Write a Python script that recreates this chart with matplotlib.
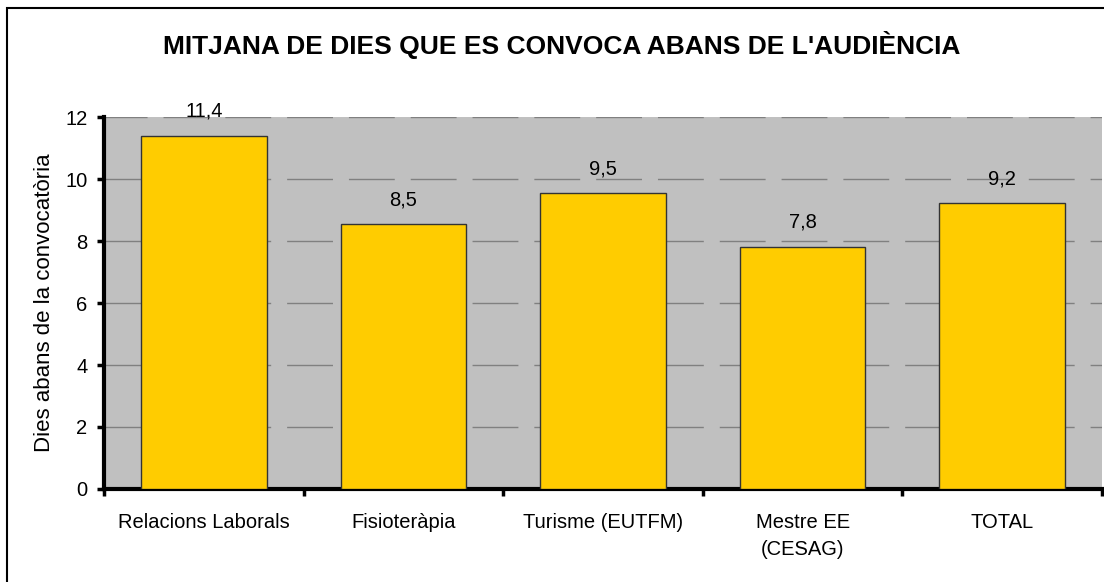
import numpy as np
import matplotlib.pyplot as plt
from matplotlib.patches import Rectangle

plt.rcParams['font.family'] = ['Liberation Sans', 'DejaVu Sans']

# data
categories = ['Relacions Laborals', 'Fisioteràpia', 'Turisme (EUTFM)', 'Mestre EE\n(CESAG)', 'TOTAL']
values = [11.4, 8.54, 9.54, 7.82, 9.21]
labels = ['11,4', '8,5', '9,5', '7,8', '9,2']
yticks = [0, 2, 4, 6, 8, 10, 12]

W, H = 1104, 582
fig = plt.figure(figsize=(W / 100, H / 100), dpi=100)
fig.patch.set_facecolor('white')

# outer chart border (runs off the right and bottom edges)
fig.patches.append(Rectangle((7 / W, -0.1), 1.2, 1 - 8 / H + 0.1, transform=fig.transFigure,
                             fill=False, edgecolor='black', linewidth=1.5))

left, right, top, bottom = 104, 1102, 117, 489
ax = fig.add_axes([left / W, 1 - bottom / H, (right - left) / W, (bottom - top) / H])
ax.set_facecolor('#c0c0c0')

x = np.arange(len(categories))
ax.bar(x, values, width=0.63, color='#ffcc00', edgecolor='#333333', linewidth=1, zorder=3)
for xi, v, lab in zip(x, values, labels):
    ax.text(xi, v + 0.78, lab, ha='center', va='center', fontsize=14.5, zorder=4)

ax.set_xlim(-0.5, len(categories) - 0.5)
ax.set_ylim(0, 12)
ax.set_yticks(yticks)
ax.set_yticklabels([str(t) for t in yticks], fontsize=14.5)
ax.yaxis.grid(True, color='#808080', linestyle=(2, (33, 11.5)), linewidth=1)
ax.set_axisbelow(True)

# category ticks sit between the bars
ax.set_xticks(np.arange(len(categories) + 1) - 0.5)
ax.set_xticklabels([])
ax.set_xticks(x, minor=True)
ax.set_xticklabels(categories, minor=True, fontsize=14.5, linespacing=1.55)
ax.tick_params(axis='x', which='minor', length=0, pad=17)
ax.tick_params(axis='both', which='major', length=5, width=2.5, direction='out')
ax.tick_params(axis='y', pad=7)

for s in ['top', 'right']:
    ax.spines[s].set_visible(False)
for s in ['left', 'bottom']:
    ax.spines[s].set_linewidth(3)

ax.set_ylabel('Dies abans de la convocatòria', fontsize=16, labelpad=7)

fig.text(562 / W, 1 - 45 / H, "MITJANA DE DIES QUE ES CONVOCA ABANS DE L'AUDIÈNCIA",
         ha='center', va='center', fontsize=19, fontweight='bold')

fig.savefig('out.png', dpi=100)
